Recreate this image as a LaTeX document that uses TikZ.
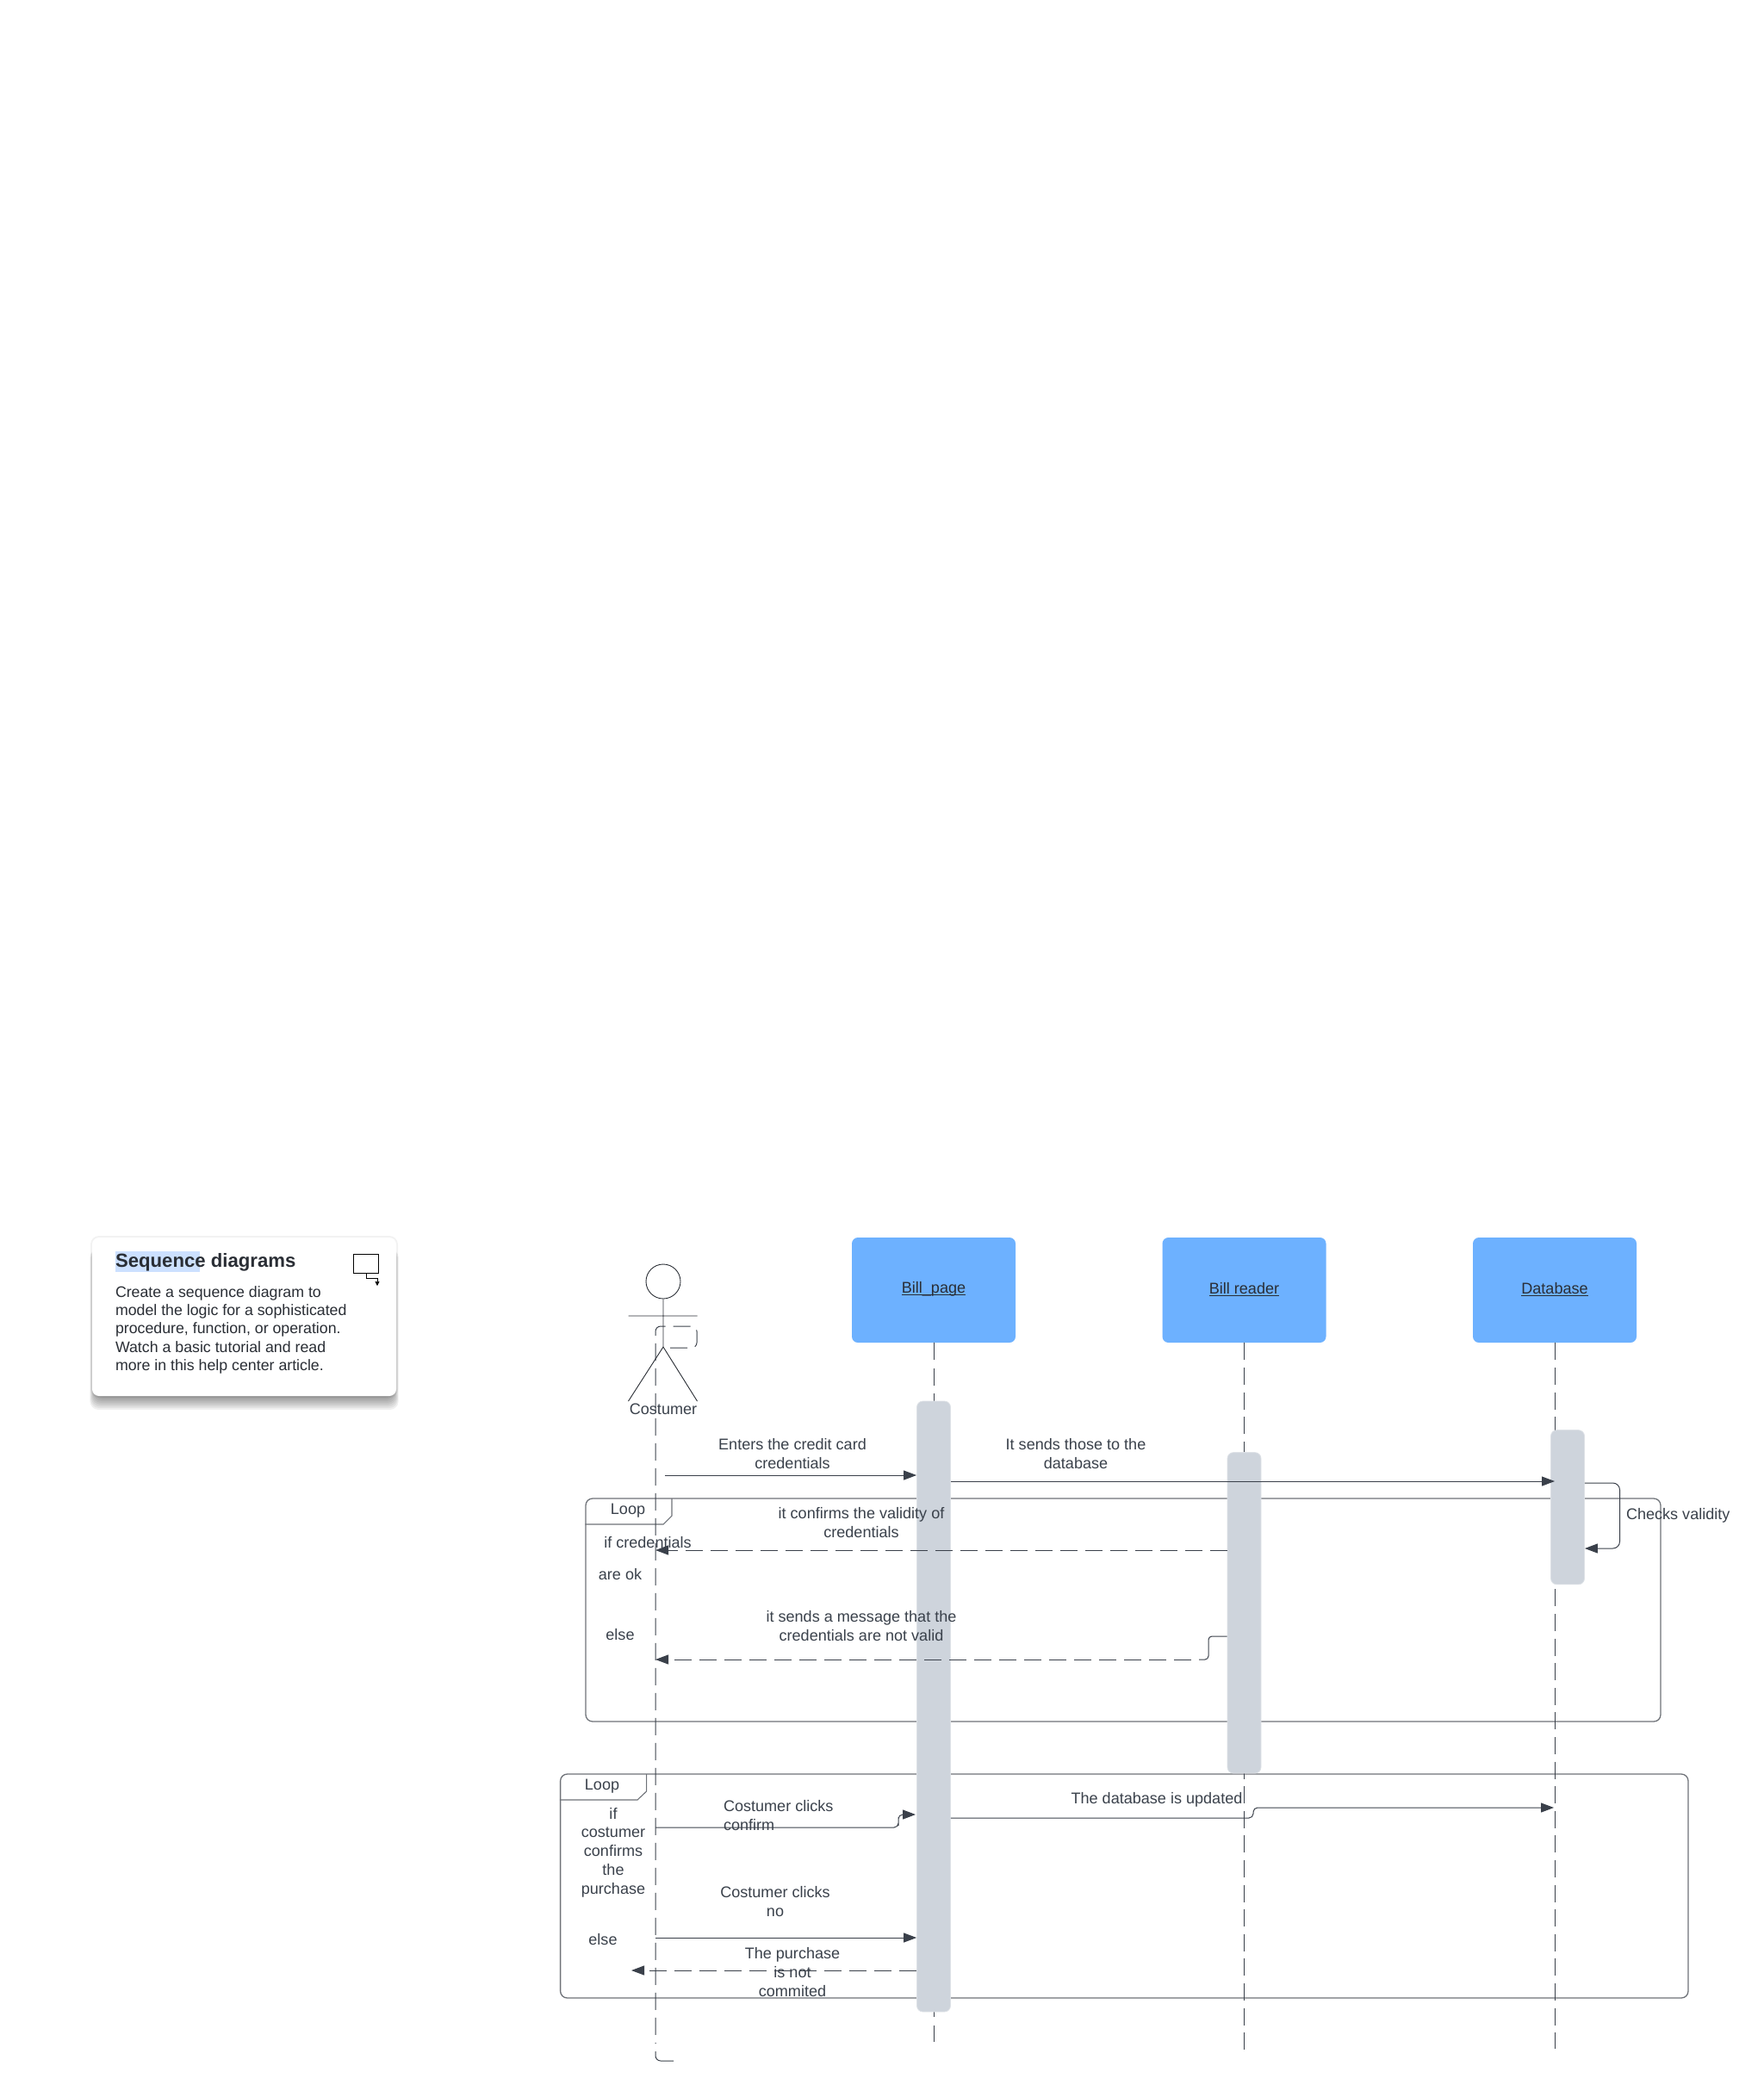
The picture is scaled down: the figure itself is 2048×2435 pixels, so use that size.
\documentclass[tikz,border=0pt]{standalone}
\usepackage{fontspec}
\setmainfont{Liberation Sans}
\usetikzlibrary{arrows.meta}
\definecolor{txt}{HTML}{3A414B}
\definecolor{dark}{HTML}{2A2E35}
\definecolor{frameln}{HTML}{6E7278}
\definecolor{lineclr}{HTML}{3A404A}
\definecolor{boxblue}{HTML}{6DB1FF}
\definecolor{barclr}{HTML}{CED4DC}
\definecolor{hl}{HTML}{CCE0FF}
\newcommand\ulbl[1]{\setbox0\hbox{#1}\rlap{\rule[-1.3pt]{\wd0}{0.4pt}}\box0}
\tikzset{
  lbl/.style={inner sep=0pt,outer sep=0pt,text=txt,align=center,font=\fontsize{9.03}{10.85}\selectfont},
  headbox/.style={fill=boxblue,rounded corners=3.5pt,minimum width=95pt,minimum height=61pt,inner sep=0pt},
  actbar/.style={fill=barclr,draw=barclr!70!white,line width=0.4pt,rounded corners=3.5pt,minimum width=19.5pt,inner sep=0pt},
  frameb/.style={draw=frameln,line width=0.65pt,rounded corners=4pt,inner sep=0pt},
  tabline/.style={draw=frameln,line width=0.55pt},
  lifeln/.style={draw=lineclr,line width=0.5pt,dash pattern=on 10pt off 4.5pt},
  msg/.style={draw=lineclr,line width=0.5pt,-{Triangle[length=7.5pt,width=5.5pt]}},
  retmsg/.style={msg,dash pattern=on 10pt off 4.5pt},
  actorln/.style={draw=dark,line width=0.45pt},
}
\begin{document}
\begin{tikzpicture}[x=0.5pt,y=-0.5pt]
\useasboundingbox (0,0) rectangle (2048,2435);
% help card shadow
\fill[black,opacity=0.05,rounded corners=5pt] (105,1435) rectangle (462,1623);
\foreach \d in {14,12,10,8,6,4,2,0}{
  \fill[black,opacity=0.06,rounded corners=5pt] (110-\d*0.4,1450) rectangle (457+\d*0.4,1623+\d);
}
\node[fill=white,rounded corners=4pt,minimum width=176.5pt,minimum height=92pt,inner sep=0pt] (card) at (283.5,1529) {};
\fill[hl] (134,1453) rectangle (232,1477);
\node[lbl,anchor=west,text=dark,font=\fontsize{11.08}{13}\selectfont\bfseries] (cardtitle) at (134,1466) {Sequence diagrams};
\node[lbl,anchor=north west,align=left,text=dark,font=\fontsize{8.88}{10.65}\selectfont] (cardbody) at (134,1493.5) {Create a sequence diagram to\\model the logic for a sophisticated\\procedure, function, or operation.\\Watch a basic tutorial and read\\more in this help center article.};
\node[draw=black,line width=0.7pt,minimum width=14.5pt,minimum height=11pt,inner sep=0pt] (icon) at (425,1467.5) {};
\coordinate (iconend) at (438,1493);
\draw[black,line width=0.35pt,-{Triangle[length=2.5pt,width=2.5pt]}] (icon.south) |- (438,1484) -- (iconend);
% frames
\node[frameb,minimum width=624pt,minimum height=129.5pt] (loopa) at (1304,1869.5) {};
\draw[tabline] (780,1740) -- (780,1760) -- (770,1770) -- (loopa.west |- 0,1770);
\node[lbl] (loopalbl) at (729,1754.5) {Loop};
\node[frameb,minimum width=654.7pt,minimum height=130pt] (loopb) at (1305.3,2190) {};
\draw[tabline] (750.6,2060) -- (750.6,2080) -- (740,2090) -- (loopb.west |- 0,2090);
\node[lbl] (loopblbl) at (699,2074.5) {Loop};
% heads
\node[headbox] (page) at (1084,1498) {};
\node[headbox] (reader) at (1444.5,1498) {};
\node[headbox] (dbase) at (1805,1498) {};
\node[lbl,text=dark] (pagelbl) at (1084,1497) {\ulbl{Bill\_page}};
\node[lbl,text=dark] (readerlbl) at (1444.5,1497) {\ulbl{Bill reader}};
\node[lbl,text=dark] (dbaselbl) at (1805,1497) {\ulbl{Database}};
% lifelines
\coordinate (pageend) at (1084,2371);
\coordinate (readerend) at (1444.5,2380);
\coordinate (dbaseend) at (1805,2379);
\draw[lifeln,dash pattern=on 10pt off 4.67pt] (page.south) -- (pageend);
\draw[lifeln,dash pattern=on 10pt off 4.3pt] (reader.south) -- (readerend);
\draw[lifeln,dash pattern=on 10pt off 4.3pt] (dbase.south) -- (dbaseend);
\coordinate (c0) at (770,1565);
\coordinate (c1) at (809,1540);
\coordinate (c2) at (761,2373);
\coordinate (c2a) at (761,2382);
\coordinate (c2b) at (761,2393);
\coordinate (c3) at (782,2393);
\draw[lifeln,dash phase=10.5pt,rounded corners=3pt] (c0) -| (c1) -| (c2);
\draw[draw=lineclr,line width=0.5pt,rounded corners=3pt] (c2a) -- (c2b) -- (c3);
% actor
\node[draw=dark,line width=0.45pt,circle,minimum size=20pt,inner sep=0pt] (head) at (770,1488) {};
\coordinate (hip) at (770,1564);
\coordinate (arml) at (729.5,1528);
\coordinate (armr) at (809.5,1528);
\coordinate (legl) at (729.5,1627);
\coordinate (legr) at (809.5,1627);
\draw[actorln] (head.south) -- (hip) (arml) -- (armr) (legl) -- (hip) -- (legr);
\node[lbl] (actorlbl) at (770,1636) {Costumer};
% activation bars
\node[actbar,minimum height=354.5pt] (barpage) at (1084,1981.5) {};
\node[actbar,minimum height=186.2pt] (barreader) at (1444.5,1872.8) {};
\node[actbar,minimum height=89.6pt] (bardb) at (1820,1750.2) {};
% messages
\coordinate (m1s) at (772,1713);
\draw[msg] (m1s) -- (barpage.west |- m1s);
\node[lbl] at (920,1688) (m1l) {Enters the credit card\\credentials};
\coordinate (m2e) at (1805,1720);
\draw[msg] (barpage.east |- m2e) -- (m2e);
\node[lbl] at (1249,1688) (m2l) {It sends those to the\\database};
\coordinate (m3a) at (1880.5,1722);
\coordinate (m3b) at (1880.5,1798);
\draw[msg,rounded corners=4pt] (bardb.east |- m3a) -- (m3a) -- (m3b) -- (bardb.east |- m3b);
\node[lbl,anchor=west] at (1888,1759.5) (m3l) {Checks validity};
\coordinate (m4e) at (761,1800);
\draw[retmsg] (barreader.west |- m4e) -- (m4e);
\node[lbl] at (1000,1768) (m4l) {it confirms the validity of\\credentials};
\coordinate (m5a) at (1403,1900);
\coordinate (m5b) at (1403,1927);
\coordinate (m5c) at (1392,1927);
\coordinate (m5d) at (1383,1927);
\coordinate (m5e) at (761,1927);
\draw[draw=lineclr,line width=0.5pt,rounded corners=2pt] (barreader.west |- m5a) -- (m5a) -- (m5b) -- (m5c);
\draw[retmsg] (m5d) -- (m5e);
\node[lbl] at (1000,1888) (m5l) {it sends a message that the\\credentials are not valid};
\node[lbl] at (752,1791) (ifa) {if credentials};
\node[lbl] at (720,1828) (ifb) {are ok};
\node[lbl] at (720,1898) (elsea) {else};
% second loop
\coordinate (n1s) at (761,2122);
\coordinate (n1m) at (1043,2115);
\coordinate (n1e) at (1063,2107);
\draw[msg,rounded corners=2.5pt] (n1s) -| (n1m) |- (n1e);
\node[lbl,align=left,anchor=west] at (840,2108) (n1l) {Costumer clicks\\confirm};
\coordinate (n2a) at (1455,2111);
\coordinate (n2b) at (1455,2099);
\coordinate (n2e) at (1804,2099);
\draw[msg,rounded corners=2.5pt] (barpage.east |- n2a) -- (n2a) -- (n2b) -- (n2e);
\node[lbl] at (1343,2089.5) (n2l) {The database is updated};
\coordinate (n3s) at (761,2250);
\draw[msg] (n3s) -- (barpage.west |- n3s);
\node[lbl] at (900,2208) (n3l) {Costumer clicks\\no};
\coordinate (n4e) at (733,2288);
\draw[retmsg] (barpage.west |- n4e) -- (n4e);
\node[lbl] at (920,2290) (n4l) {The purchase\\is not\\commited};
\node[lbl] at (712,2151) (ifc) {if\\costumer\\confirms\\the\\purchase};
\node[lbl] at (700,2252.5) (elseb) {else};
\end{tikzpicture}
\end{document}
